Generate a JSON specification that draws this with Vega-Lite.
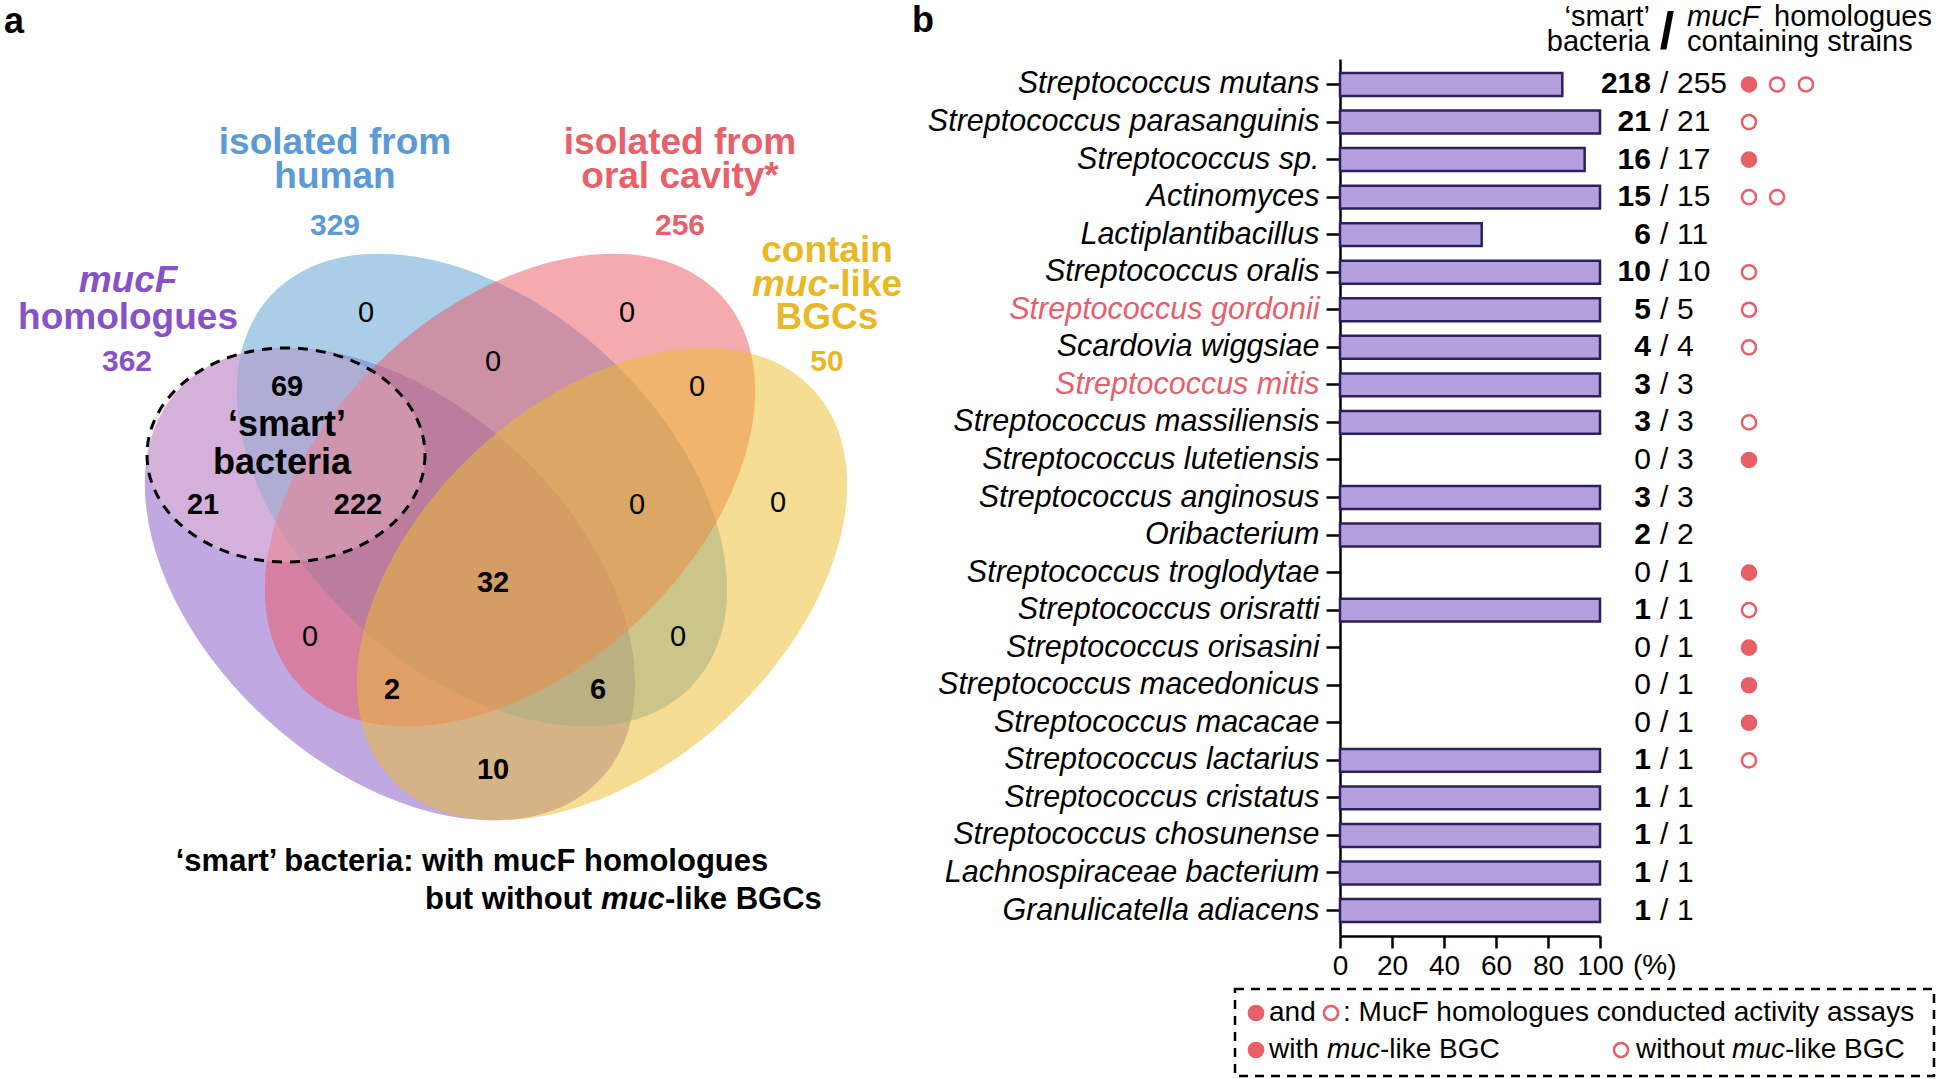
{
"$schema": "https://vega.github.io/schema/vega-lite/v6.json",
"background": "white",
"padding": 0,
"config": {"font": "Liberation Sans", "view": {"stroke": null}},
"datasets": {
"one": [{"id": 1}],
"sets": [
{"set": "A", "name": "mucF homologues", "total": 362},
{"set": "B", "name": "isolated from human", "total": 329},
{"set": "C", "name": "isolated from oral cavity*", "total": 256},
{"set": "D", "name": "contain muc-like BGCs", "total": 50}
],
"regions": [
{"sets": "B", "count": 0}, {"sets": "C", "count": 0}, {"sets": "BC", "count": 0}, {"sets": "CD", "count": 0},
{"sets": "AB", "count": 69}, {"sets": "A", "count": 21}, {"sets": "ABC", "count": 222}, {"sets": "BCD", "count": 0},
{"sets": "D", "count": 0}, {"sets": "ABCD", "count": 32}, {"sets": "AC", "count": 0}, {"sets": "BD", "count": 0},
{"sets": "ACD", "count": 2}, {"sets": "ABD", "count": 6}, {"sets": "AD", "count": 10}
],
"species": [
{"species":"Streptococcus mutans","smart":218,"total":255,"pct":85.5,"a1":"with","a2":"without","a3":"without"},
{"species":"Streptococcus parasanguinis","smart":21,"total":21,"pct":100,"a1":"without"},
{"species":"Streptococcus sp.","smart":16,"total":17,"pct":94.1,"a1":"with"},
{"species":"Actinomyces","smart":15,"total":15,"pct":100,"a1":"without","a2":"without"},
{"species":"Lactiplantibacillus","smart":6,"total":11,"pct":54.5},
{"species":"Streptococcus oralis","smart":10,"total":10,"pct":100,"a1":"without"},
{"species":"Streptococcus gordonii","smart":5,"total":5,"pct":100,"a1":"without"},
{"species":"Scardovia wiggsiae","smart":4,"total":4,"pct":100,"a1":"without"},
{"species":"Streptococcus mitis","smart":3,"total":3,"pct":100},
{"species":"Streptococcus massiliensis","smart":3,"total":3,"pct":100,"a1":"without"},
{"species":"Streptococcus lutetiensis","smart":0,"total":3,"pct":0,"a1":"with"},
{"species":"Streptococcus anginosus","smart":3,"total":3,"pct":100},
{"species":"Oribacterium","smart":2,"total":2,"pct":100},
{"species":"Streptococcus troglodytae","smart":0,"total":1,"pct":0,"a1":"with"},
{"species":"Streptococcus orisratti","smart":1,"total":1,"pct":100,"a1":"without"},
{"species":"Streptococcus orisasini","smart":0,"total":1,"pct":0,"a1":"with"},
{"species":"Streptococcus macedonicus","smart":0,"total":1,"pct":0,"a1":"with"},
{"species":"Streptococcus macacae","smart":0,"total":1,"pct":0,"a1":"with"},
{"species":"Streptococcus lactarius","smart":1,"total":1,"pct":100,"a1":"without"},
{"species":"Streptococcus cristatus","smart":1,"total":1,"pct":100},
{"species":"Streptococcus chosunense","smart":1,"total":1,"pct":100},
{"species":"Lachnospiraceae bacterium","smart":1,"total":1,"pct":100},
{"species":"Granulicatella adiacens","smart":1,"total":1,"pct":100}
]
},
"bounds": "flush",
"spacing": 0,
"hconcat": [
{
"width": 1340, "height": 1079,
"data": {"name": "one"},
"layer": [
{"data": {"name": "sets"}, "transform": [{"filter": "datum.set == 'A'"}], "mark": {"type": "point", "shape": "M1,0C1,0.3524,0.5523,0.638,0,0.638C-0.5523,0.638,-1,0.3524,-1,0C-1,-0.3524,-0.5523,-0.638,0,-0.638C0.5523,-0.638,1,-0.3524,1,0Z", "size": 329476, "angle": 42.5, "filled": true, "fill": "#8151C5", "opacity": 0.5, "strokeWidth": 0}, "encoding": {"x": {"datum": 390, "type": "quantitative", "scale": {"domain": [0, 1340], "nice": false, "zero": false}, "axis": null}, "y": {"datum": 584, "type": "quantitative", "scale": {"domain": [0, 1079], "nice": false, "zero": false, "reverse": true}, "axis": null}}},
{"data": {"name": "sets"}, "transform": [{"filter": "datum.set == 'B'"}], "mark": {"type": "point", "shape": "M1,0C1,0.3524,0.5523,0.638,0,0.638C-0.5523,0.638,-1,0.3524,-1,0C-1,-0.3524,-0.5523,-0.638,0,-0.638C0.5523,-0.638,1,-0.3524,1,0Z", "size": 329476, "angle": 42.5, "filled": true, "fill": "#559BD1", "opacity": 0.5, "strokeWidth": 0}, "encoding": {"x": {"datum": 482, "type": "quantitative", "scale": {"domain": [0, 1340], "nice": false, "zero": false}, "axis": null}, "y": {"datum": 490, "type": "quantitative", "scale": {"domain": [0, 1079], "nice": false, "zero": false, "reverse": true}, "axis": null}}},
{"data": {"name": "sets"}, "transform": [{"filter": "datum.set == 'C'"}], "mark": {"type": "point", "shape": "M1,0C1,0.3524,0.5523,0.638,0,0.638C-0.5523,0.638,-1,0.3524,-1,0C-1,-0.3524,-0.5523,-0.638,0,-0.638C0.5523,-0.638,1,-0.3524,1,0Z", "size": 329476, "angle": -42.5, "filled": true, "fill": "#EB5561", "opacity": 0.5, "strokeWidth": 0}, "encoding": {"x": {"datum": 510, "type": "quantitative", "scale": {"domain": [0, 1340], "nice": false, "zero": false}, "axis": null}, "y": {"datum": 490, "type": "quantitative", "scale": {"domain": [0, 1079], "nice": false, "zero": false, "reverse": true}, "axis": null}}},
{"data": {"name": "sets"}, "transform": [{"filter": "datum.set == 'D'"}], "mark": {"type": "point", "shape": "M1,0C1,0.3524,0.5523,0.638,0,0.638C-0.5523,0.638,-1,0.3524,-1,0C-1,-0.3524,-0.5523,-0.638,0,-0.638C0.5523,-0.638,1,-0.3524,1,0Z", "size": 329476, "angle": -42.5, "filled": true, "fill": "#EBBD29", "opacity": 0.5, "strokeWidth": 0}, "encoding": {"x": {"datum": 602, "type": "quantitative", "scale": {"domain": [0, 1340], "nice": false, "zero": false}, "axis": null}, "y": {"datum": 584, "type": "quantitative", "scale": {"domain": [0, 1079], "nice": false, "zero": false, "reverse": true}, "axis": null}}},
{"mark": {"type": "point", "shape": "M1,0C1,0.4253,0.5523,0.77,0,0.77C-0.5523,0.77,-1,0.4253,-1,0C-1,-0.4253,-0.5523,-0.77,0,-0.77C0.5523,-0.77,1,-0.4253,1,0Z", "size": 77284, "filled": true, "fill": "#F6C4CC", "fillOpacity": 0.35, "opacity": 1, "stroke": "black", "strokeWidth": 3, "strokeDash": [10, 8]}, "encoding": {"x": {"datum": 286, "type": "quantitative", "scale": {"domain": [0, 1340], "nice": false, "zero": false}, "axis": null}, "y": {"datum": 455, "type": "quantitative", "scale": {"domain": [0, 1079], "nice": false, "zero": false, "reverse": true}, "axis": null}}},

{"mark": {"type": "text", "text": "isolated from", "fontSize": 37, "fontWeight": "bold", "color": "#5B9BD5"}, "encoding": {"x": {"datum": 335, "type": "quantitative", "scale": {"domain": [0, 1340], "nice": false, "zero": false}, "axis": null}, "y": {"datum": 143, "type": "quantitative", "scale": {"domain": [0, 1079], "nice": false, "zero": false, "reverse": true}, "axis": null}}},
{"mark": {"type": "text", "text": "human", "fontSize": 37, "fontWeight": "bold", "color": "#5B9BD5"}, "encoding": {"x": {"datum": 335, "type": "quantitative", "scale": {"domain": [0, 1340], "nice": false, "zero": false}, "axis": null}, "y": {"datum": 177, "type": "quantitative", "scale": {"domain": [0, 1079], "nice": false, "zero": false, "reverse": true}, "axis": null}}},
{"data": {"name": "sets"}, "transform": [{"filter": "datum.set == 'B'"}], "mark": {"type": "text", "fontSize": 30, "fontWeight": "bold", "color": "#5B9BD5"}, "encoding": {"text": {"field": "total"}, "x": {"datum": 335, "type": "quantitative", "scale": {"domain": [0, 1340], "nice": false, "zero": false}, "axis": null}, "y": {"datum": 226, "type": "quantitative", "scale": {"domain": [0, 1079], "nice": false, "zero": false, "reverse": true}, "axis": null}}},
{"mark": {"type": "text", "text": "isolated from", "fontSize": 37, "fontWeight": "bold", "color": "#E8606A"}, "encoding": {"x": {"datum": 680, "type": "quantitative", "scale": {"domain": [0, 1340], "nice": false, "zero": false}, "axis": null}, "y": {"datum": 143, "type": "quantitative", "scale": {"domain": [0, 1079], "nice": false, "zero": false, "reverse": true}, "axis": null}}},
{"mark": {"type": "text", "text": "oral cavity*", "fontSize": 37, "fontWeight": "bold", "color": "#E8606A"}, "encoding": {"x": {"datum": 680, "type": "quantitative", "scale": {"domain": [0, 1340], "nice": false, "zero": false}, "axis": null}, "y": {"datum": 177, "type": "quantitative", "scale": {"domain": [0, 1079], "nice": false, "zero": false, "reverse": true}, "axis": null}}},
{"data": {"name": "sets"}, "transform": [{"filter": "datum.set == 'C'"}], "mark": {"type": "text", "fontSize": 30, "fontWeight": "bold", "color": "#E8606A"}, "encoding": {"text": {"field": "total"}, "x": {"datum": 680, "type": "quantitative", "scale": {"domain": [0, 1340], "nice": false, "zero": false}, "axis": null}, "y": {"datum": 226, "type": "quantitative", "scale": {"domain": [0, 1079], "nice": false, "zero": false, "reverse": true}, "axis": null}}},
{"mark": {"type": "text", "text": "contain", "fontSize": 37, "fontWeight": "bold", "color": "#E8B827"}, "encoding": {"x": {"datum": 827, "type": "quantitative", "scale": {"domain": [0, 1340], "nice": false, "zero": false}, "axis": null}, "y": {"datum": 251, "type": "quantitative", "scale": {"domain": [0, 1079], "nice": false, "zero": false, "reverse": true}, "axis": null}}},
{"mark": {"type": "text", "text": "muc", "align": "right", "fontSize": 37, "fontWeight": "bold", "fontStyle": "italic", "color": "#E8B827"}, "encoding": {"x": {"datum": 828, "type": "quantitative", "scale": {"domain": [0, 1340], "nice": false, "zero": false}, "axis": null}, "y": {"datum": 285, "type": "quantitative", "scale": {"domain": [0, 1079], "nice": false, "zero": false, "reverse": true}, "axis": null}}},
{"mark": {"type": "text", "text": "-like", "align": "left", "fontSize": 37, "fontWeight": "bold", "color": "#E8B827"}, "encoding": {"x": {"datum": 828, "type": "quantitative", "scale": {"domain": [0, 1340], "nice": false, "zero": false}, "axis": null}, "y": {"datum": 285, "type": "quantitative", "scale": {"domain": [0, 1079], "nice": false, "zero": false, "reverse": true}, "axis": null}}},
{"mark": {"type": "text", "text": "BGCs", "fontSize": 37, "fontWeight": "bold", "color": "#E8B827"}, "encoding": {"x": {"datum": 827, "type": "quantitative", "scale": {"domain": [0, 1340], "nice": false, "zero": false}, "axis": null}, "y": {"datum": 318, "type": "quantitative", "scale": {"domain": [0, 1079], "nice": false, "zero": false, "reverse": true}, "axis": null}}},
{"data": {"name": "sets"}, "transform": [{"filter": "datum.set == 'D'"}], "mark": {"type": "text", "fontSize": 30, "fontWeight": "bold", "color": "#E8B827"}, "encoding": {"text": {"field": "total"}, "x": {"datum": 827, "type": "quantitative", "scale": {"domain": [0, 1340], "nice": false, "zero": false}, "axis": null}, "y": {"datum": 362, "type": "quantitative", "scale": {"domain": [0, 1079], "nice": false, "zero": false, "reverse": true}, "axis": null}}},
{"mark": {"type": "text", "text": "mucF", "fontSize": 37, "fontWeight": "bold", "fontStyle": "italic", "color": "#8752C8"}, "encoding": {"x": {"datum": 128, "type": "quantitative", "scale": {"domain": [0, 1340], "nice": false, "zero": false}, "axis": null}, "y": {"datum": 281, "type": "quantitative", "scale": {"domain": [0, 1079], "nice": false, "zero": false, "reverse": true}, "axis": null}}},
{"mark": {"type": "text", "text": "homologues", "fontSize": 37, "fontWeight": "bold", "color": "#8752C8"}, "encoding": {"x": {"datum": 128, "type": "quantitative", "scale": {"domain": [0, 1340], "nice": false, "zero": false}, "axis": null}, "y": {"datum": 318, "type": "quantitative", "scale": {"domain": [0, 1079], "nice": false, "zero": false, "reverse": true}, "axis": null}}},
{"data": {"name": "sets"}, "transform": [{"filter": "datum.set == 'A'"}], "mark": {"type": "text", "fontSize": 30, "fontWeight": "bold", "color": "#8752C8"}, "encoding": {"text": {"field": "total"}, "x": {"datum": 127, "type": "quantitative", "scale": {"domain": [0, 1340], "nice": false, "zero": false}, "axis": null}, "y": {"datum": 362, "type": "quantitative", "scale": {"domain": [0, 1079], "nice": false, "zero": false, "reverse": true}, "axis": null}}},

{"data": {"name": "regions"}, "transform": [{"filter": "datum.sets == 'B'"}], "mark": {"type": "text", "fontSize": 29, "color": "black"}, "encoding": {"text": {"field": "count"}, "x": {"datum": 366, "type": "quantitative", "scale": {"domain": [0, 1340], "nice": false, "zero": false}, "axis": null}, "y": {"datum": 313, "type": "quantitative", "scale": {"domain": [0, 1079], "nice": false, "zero": false, "reverse": true}, "axis": null}}},
{"data": {"name": "regions"}, "transform": [{"filter": "datum.sets == 'C'"}], "mark": {"type": "text", "fontSize": 29, "color": "black"}, "encoding": {"text": {"field": "count"}, "x": {"datum": 627, "type": "quantitative", "scale": {"domain": [0, 1340], "nice": false, "zero": false}, "axis": null}, "y": {"datum": 313, "type": "quantitative", "scale": {"domain": [0, 1079], "nice": false, "zero": false, "reverse": true}, "axis": null}}},
{"data": {"name": "regions"}, "transform": [{"filter": "datum.sets == 'BC'"}], "mark": {"type": "text", "fontSize": 29, "color": "black"}, "encoding": {"text": {"field": "count"}, "x": {"datum": 493, "type": "quantitative", "scale": {"domain": [0, 1340], "nice": false, "zero": false}, "axis": null}, "y": {"datum": 362, "type": "quantitative", "scale": {"domain": [0, 1079], "nice": false, "zero": false, "reverse": true}, "axis": null}}},
{"data": {"name": "regions"}, "transform": [{"filter": "datum.sets == 'CD'"}], "mark": {"type": "text", "fontSize": 29, "color": "black"}, "encoding": {"text": {"field": "count"}, "x": {"datum": 697, "type": "quantitative", "scale": {"domain": [0, 1340], "nice": false, "zero": false}, "axis": null}, "y": {"datum": 387, "type": "quantitative", "scale": {"domain": [0, 1079], "nice": false, "zero": false, "reverse": true}, "axis": null}}},
{"data": {"name": "regions"}, "transform": [{"filter": "datum.sets == 'AB'"}], "mark": {"type": "text", "fontSize": 29, "fontWeight": "bold", "color": "black"}, "encoding": {"text": {"field": "count"}, "x": {"datum": 287, "type": "quantitative", "scale": {"domain": [0, 1340], "nice": false, "zero": false}, "axis": null}, "y": {"datum": 387, "type": "quantitative", "scale": {"domain": [0, 1079], "nice": false, "zero": false, "reverse": true}, "axis": null}}},
{"mark": {"type": "text", "text": "‘smart’", "fontSize": 36, "fontWeight": "bold", "color": "black"}, "encoding": {"x": {"datum": 287, "type": "quantitative", "scale": {"domain": [0, 1340], "nice": false, "zero": false}, "axis": null}, "y": {"datum": 425, "type": "quantitative", "scale": {"domain": [0, 1079], "nice": false, "zero": false, "reverse": true}, "axis": null}}},
{"mark": {"type": "text", "text": "bacteria", "fontSize": 36, "fontWeight": "bold", "color": "black"}, "encoding": {"x": {"datum": 282, "type": "quantitative", "scale": {"domain": [0, 1340], "nice": false, "zero": false}, "axis": null}, "y": {"datum": 463, "type": "quantitative", "scale": {"domain": [0, 1079], "nice": false, "zero": false, "reverse": true}, "axis": null}}},
{"data": {"name": "regions"}, "transform": [{"filter": "datum.sets == 'A'"}], "mark": {"type": "text", "fontSize": 29, "fontWeight": "bold", "color": "black"}, "encoding": {"text": {"field": "count"}, "x": {"datum": 203, "type": "quantitative", "scale": {"domain": [0, 1340], "nice": false, "zero": false}, "axis": null}, "y": {"datum": 505, "type": "quantitative", "scale": {"domain": [0, 1079], "nice": false, "zero": false, "reverse": true}, "axis": null}}},
{"data": {"name": "regions"}, "transform": [{"filter": "datum.sets == 'ABC'"}], "mark": {"type": "text", "fontSize": 29, "fontWeight": "bold", "color": "black"}, "encoding": {"text": {"field": "count"}, "x": {"datum": 358, "type": "quantitative", "scale": {"domain": [0, 1340], "nice": false, "zero": false}, "axis": null}, "y": {"datum": 505, "type": "quantitative", "scale": {"domain": [0, 1079], "nice": false, "zero": false, "reverse": true}, "axis": null}}},
{"data": {"name": "regions"}, "transform": [{"filter": "datum.sets == 'BCD'"}], "mark": {"type": "text", "fontSize": 29, "color": "black"}, "encoding": {"text": {"field": "count"}, "x": {"datum": 637, "type": "quantitative", "scale": {"domain": [0, 1340], "nice": false, "zero": false}, "axis": null}, "y": {"datum": 505, "type": "quantitative", "scale": {"domain": [0, 1079], "nice": false, "zero": false, "reverse": true}, "axis": null}}},
{"data": {"name": "regions"}, "transform": [{"filter": "datum.sets == 'D'"}], "mark": {"type": "text", "fontSize": 29, "color": "black"}, "encoding": {"text": {"field": "count"}, "x": {"datum": 778, "type": "quantitative", "scale": {"domain": [0, 1340], "nice": false, "zero": false}, "axis": null}, "y": {"datum": 503, "type": "quantitative", "scale": {"domain": [0, 1079], "nice": false, "zero": false, "reverse": true}, "axis": null}}},
{"data": {"name": "regions"}, "transform": [{"filter": "datum.sets == 'ABCD'"}], "mark": {"type": "text", "fontSize": 29, "fontWeight": "bold", "color": "black"}, "encoding": {"text": {"field": "count"}, "x": {"datum": 493, "type": "quantitative", "scale": {"domain": [0, 1340], "nice": false, "zero": false}, "axis": null}, "y": {"datum": 583, "type": "quantitative", "scale": {"domain": [0, 1079], "nice": false, "zero": false, "reverse": true}, "axis": null}}},
{"data": {"name": "regions"}, "transform": [{"filter": "datum.sets == 'AC'"}], "mark": {"type": "text", "fontSize": 29, "color": "black"}, "encoding": {"text": {"field": "count"}, "x": {"datum": 310, "type": "quantitative", "scale": {"domain": [0, 1340], "nice": false, "zero": false}, "axis": null}, "y": {"datum": 637, "type": "quantitative", "scale": {"domain": [0, 1079], "nice": false, "zero": false, "reverse": true}, "axis": null}}},
{"data": {"name": "regions"}, "transform": [{"filter": "datum.sets == 'BD'"}], "mark": {"type": "text", "fontSize": 29, "color": "black"}, "encoding": {"text": {"field": "count"}, "x": {"datum": 678, "type": "quantitative", "scale": {"domain": [0, 1340], "nice": false, "zero": false}, "axis": null}, "y": {"datum": 637, "type": "quantitative", "scale": {"domain": [0, 1079], "nice": false, "zero": false, "reverse": true}, "axis": null}}},
{"data": {"name": "regions"}, "transform": [{"filter": "datum.sets == 'ACD'"}], "mark": {"type": "text", "fontSize": 29, "fontWeight": "bold", "color": "black"}, "encoding": {"text": {"field": "count"}, "x": {"datum": 392, "type": "quantitative", "scale": {"domain": [0, 1340], "nice": false, "zero": false}, "axis": null}, "y": {"datum": 690, "type": "quantitative", "scale": {"domain": [0, 1079], "nice": false, "zero": false, "reverse": true}, "axis": null}}},
{"data": {"name": "regions"}, "transform": [{"filter": "datum.sets == 'ABD'"}], "mark": {"type": "text", "fontSize": 29, "fontWeight": "bold", "color": "black"}, "encoding": {"text": {"field": "count"}, "x": {"datum": 598, "type": "quantitative", "scale": {"domain": [0, 1340], "nice": false, "zero": false}, "axis": null}, "y": {"datum": 690, "type": "quantitative", "scale": {"domain": [0, 1079], "nice": false, "zero": false, "reverse": true}, "axis": null}}},
{"data": {"name": "regions"}, "transform": [{"filter": "datum.sets == 'AD'"}], "mark": {"type": "text", "fontSize": 29, "fontWeight": "bold", "color": "black"}, "encoding": {"text": {"field": "count"}, "x": {"datum": 493, "type": "quantitative", "scale": {"domain": [0, 1340], "nice": false, "zero": false}, "axis": null}, "y": {"datum": 770, "type": "quantitative", "scale": {"domain": [0, 1079], "nice": false, "zero": false, "reverse": true}, "axis": null}}},

{"mark": {"type": "text", "text": "‘smart’ bacteria: with mucF homologues", "fontSize": 31, "fontWeight": "bold", "color": "black"}, "encoding": {"x": {"datum": 472, "type": "quantitative", "scale": {"domain": [0, 1340], "nice": false, "zero": false}, "axis": null}, "y": {"datum": 862, "type": "quantitative", "scale": {"domain": [0, 1079], "nice": false, "zero": false, "reverse": true}, "axis": null}}},
{"mark": {"type": "text", "text": "but without", "align": "right", "fontSize": 31, "fontWeight": "bold", "color": "black"}, "encoding": {"x": {"datum": 592, "type": "quantitative", "scale": {"domain": [0, 1340], "nice": false, "zero": false}, "axis": null}, "y": {"datum": 900, "type": "quantitative", "scale": {"domain": [0, 1079], "nice": false, "zero": false, "reverse": true}, "axis": null}}},
{"mark": {"type": "text", "text": "muc", "align": "left", "fontSize": 31, "fontWeight": "bold", "fontStyle": "italic", "color": "black"}, "encoding": {"x": {"datum": 601, "type": "quantitative", "scale": {"domain": [0, 1340], "nice": false, "zero": false}, "axis": null}, "y": {"datum": 900, "type": "quantitative", "scale": {"domain": [0, 1079], "nice": false, "zero": false, "reverse": true}, "axis": null}}},
{"mark": {"type": "text", "text": "-like BGCs", "align": "left", "fontSize": 31, "fontWeight": "bold", "color": "black"}, "encoding": {"x": {"datum": 665, "type": "quantitative", "scale": {"domain": [0, 1340], "nice": false, "zero": false}, "axis": null}, "y": {"datum": 900, "type": "quantitative", "scale": {"domain": [0, 1079], "nice": false, "zero": false, "reverse": true}, "axis": null}}},
{"mark": {"type": "text", "text": "a", "align": "left", "baseline": "middle", "fontSize": 36, "fontWeight": "bold", "color": "black"}, "encoding": {"x": {"datum": 4, "type": "quantitative", "scale": {"domain": [0, 1340], "nice": false, "zero": false}, "axis": null}, "y": {"datum": 22, "type": "quantitative", "scale": {"domain": [0, 1079], "nice": false, "zero": false, "reverse": true}, "axis": null}}}
]
},
{
"bounds": "flush",
"spacing": 0,
"vconcat": [
{
"width": 606, "height": 59,
"data": {"name": "one"},
"layer": [
{"mark": {"type": "text", "text": "b", "align": "left", "baseline": "middle", "fontSize": 36, "fontWeight": "bold", "color": "black"}, "encoding": {"x": {"datum": 912, "type": "quantitative", "scale": {"domain": [1340, 1946], "nice": false, "zero": false}, "axis": null}, "y": {"datum": 21, "type": "quantitative", "scale": {"domain": [0, 59], "nice": false, "zero": false, "reverse": true}, "axis": null}}},
{"mark": {"type": "text", "text": "‘smart’", "align": "right", "baseline": "alphabetic", "fontSize": 29, "color": "black"}, "encoding": {"x": {"datum": 1650, "type": "quantitative", "scale": {"domain": [1340, 1946], "nice": false, "zero": false}, "axis": null}, "y": {"datum": 26, "type": "quantitative", "scale": {"domain": [0, 59], "nice": false, "zero": false, "reverse": true}, "axis": null}}},
{"mark": {"type": "text", "text": "bacteria", "align": "right", "baseline": "alphabetic", "fontSize": 29, "color": "black"}, "encoding": {"x": {"datum": 1650, "type": "quantitative", "scale": {"domain": [1340, 1946], "nice": false, "zero": false}, "axis": null}, "y": {"datum": 51, "type": "quantitative", "scale": {"domain": [0, 59], "nice": false, "zero": false, "reverse": true}, "axis": null}}},
{"mark": {"type": "text", "text": "/", "align": "center", "baseline": "alphabetic", "fontSize": 52, "fontWeight": "bold", "color": "black"}, "encoding": {"x": {"datum": 1667, "type": "quantitative", "scale": {"domain": [1340, 1946], "nice": false, "zero": false}, "axis": null}, "y": {"datum": 49, "type": "quantitative", "scale": {"domain": [0, 59], "nice": false, "zero": false, "reverse": true}, "axis": null}}},
{"mark": {"type": "text", "text": "mucF", "align": "left", "baseline": "alphabetic", "fontSize": 29, "fontStyle": "italic", "color": "black"}, "encoding": {"x": {"datum": 1687, "type": "quantitative", "scale": {"domain": [1340, 1946], "nice": false, "zero": false}, "axis": null}, "y": {"datum": 26, "type": "quantitative", "scale": {"domain": [0, 59], "nice": false, "zero": false, "reverse": true}, "axis": null}}},
{"mark": {"type": "text", "text": "homologues", "align": "left", "baseline": "alphabetic", "fontSize": 29, "color": "black"}, "encoding": {"x": {"datum": 1774, "type": "quantitative", "scale": {"domain": [1340, 1946], "nice": false, "zero": false}, "axis": null}, "y": {"datum": 26, "type": "quantitative", "scale": {"domain": [0, 59], "nice": false, "zero": false, "reverse": true}, "axis": null}}},
{"mark": {"type": "text", "text": "containing strains", "align": "left", "baseline": "alphabetic", "fontSize": 29, "color": "black"}, "encoding": {"x": {"datum": 1687, "type": "quantitative", "scale": {"domain": [1340, 1946], "nice": false, "zero": false}, "axis": null}, "y": {"datum": 51, "type": "quantitative", "scale": {"domain": [0, 59], "nice": false, "zero": false, "reverse": true}, "axis": null}}}
]
},
{
"width": 260, "height": 877,
"data": {"name": "species"},
"encoding": {"y": {"field": "species", "type": "nominal", "sort": null, "scale": {"paddingInner": 0.39, "paddingOuter": 0.373}, "axis": {"title": null, "labelFontSize": 30.5, "labelFontStyle": "italic", "labelColor": {"condition": {"test": "datum.value === 'Streptococcus gordonii' || datum.value === 'Streptococcus mitis'", "value": "#E5606B"}, "value": "black"}, "labelPadding": 7, "labelLimit": 700, "tickSize": 14, "tickWidth": 2.5, "tickColor": "black", "domainColor": "black", "domainWidth": 2.5}}},
"layer": [
{"mark": {"type": "bar", "fill": "#B4A0DC", "stroke": "#2E1F5E", "strokeWidth": 2.5}, "encoding": {"x": {"field": "pct", "type": "quantitative", "scale": {"domain": [0, 100], "nice": false, "zero": true}, "axis": {"values": [0, 20, 40, 60, 80, 100], "title": null, "labelFontSize": 28, "labelColor": "black", "labelPadding": 4, "labelFlush": false, "labelOverlap": false, "tickSize": 12, "tickWidth": 2.5, "tickColor": "black", "domainColor": "black", "domainWidth": 2.5, "grid": false}}, "strokeOpacity": {"condition": {"test": "datum.pct == 0", "value": 0}, "value": 1}}},
{"transform": [{"filter": "datum.smart > 0"}], "mark": {"type": "text", "align": "right", "fontSize": 30, "fontWeight": "bold", "color": "black"}, "encoding": {"x": {"datum": 119.6, "type": "quantitative", "scale": {"domain": [0, 100], "nice": false, "zero": true}}, "text": {"field": "smart"}}},
{"transform": [{"filter": "datum.smart == 0"}], "mark": {"type": "text", "align": "right", "fontSize": 30, "color": "black"}, "encoding": {"x": {"datum": 119.6, "type": "quantitative", "scale": {"domain": [0, 100], "nice": false, "zero": true}}, "text": {"field": "smart"}}},
{"mark": {"type": "text", "text": "/", "align": "left", "fontSize": 30, "color": "black"}, "encoding": {"x": {"datum": 123.1, "type": "quantitative", "scale": {"domain": [0, 100], "nice": false, "zero": true}}}},
{"mark": {"type": "text", "align": "left", "fontSize": 30, "color": "black"}, "encoding": {"x": {"datum": 129.6, "type": "quantitative", "scale": {"domain": [0, 100], "nice": false, "zero": true}}, "text": {"field": "total"}}},
{"transform": [{"filter": "datum.a1 != null"}], "mark": {"type": "point", "shape": "circle", "size": 200, "filled": true, "opacity": 1, "stroke": "#E95F67", "strokeWidth": 2.5}, "encoding": {"x": {"datum": 157.3, "type": "quantitative", "scale": {"domain": [0, 100], "nice": false, "zero": true}}, "fill": {"field": "a1", "type": "nominal", "scale": {"domain": ["with", "without"], "range": ["#E95F67", "white"]}, "legend": null}}},
{"transform": [{"filter": "datum.a2 != null"}], "mark": {"type": "point", "shape": "circle", "size": 200, "filled": true, "opacity": 1, "stroke": "#E95F67", "strokeWidth": 2.5}, "encoding": {"x": {"datum": 168.1, "type": "quantitative", "scale": {"domain": [0, 100], "nice": false, "zero": true}}, "fill": {"field": "a2", "type": "nominal", "scale": {"domain": ["with", "without"], "range": ["#E95F67", "white"]}, "legend": null}}},
{"transform": [{"filter": "datum.a3 != null"}], "mark": {"type": "point", "shape": "circle", "size": 200, "filled": true, "opacity": 1, "stroke": "#E95F67", "strokeWidth": 2.5}, "encoding": {"x": {"datum": 179.2, "type": "quantitative", "scale": {"domain": [0, 100], "nice": false, "zero": true}}, "fill": {"field": "a3", "type": "nominal", "scale": {"domain": ["with", "without"], "range": ["#E95F67", "white"]}, "legend": null}}}
]
},
{
"width": 606, "height": 143,
"data": {"name": "one"},
"layer": [
{"mark": {"type": "rect", "fill": "transparent", "stroke": "black", "strokeWidth": 2.5, "strokeDash": [9, 7]}, "encoding": {"x": {"datum": 1235, "type": "quantitative", "scale": {"domain": [1340, 1946], "nice": false, "zero": false}, "axis": null}, "x2": {"datum": 1934}, "y": {"datum": 989, "type": "quantitative", "scale": {"domain": [936, 1079], "nice": false, "zero": false, "reverse": true}, "axis": null}, "y2": {"datum": 1076}}},
{"mark": {"type": "text", "text": "(%)", "align": "left", "fontSize": 28, "color": "black"}, "encoding": {"x": {"datum": 1633, "type": "quantitative", "scale": {"domain": [1340, 1946], "nice": false, "zero": false}, "axis": null}, "y": {"datum": 966, "type": "quantitative", "scale": {"domain": [936, 1079], "nice": false, "zero": false, "reverse": true}, "axis": null}}},
{"mark": {"type": "point", "shape": "circle", "size": 200, "filled": true, "opacity": 1, "fill": "#E95F67", "stroke": "#E95F67", "strokeWidth": 2.5}, "encoding": {"x": {"datum": 1256, "type": "quantitative", "scale": {"domain": [1340, 1946], "nice": false, "zero": false}, "axis": null}, "y": {"datum": 1013, "type": "quantitative", "scale": {"domain": [936, 1079], "nice": false, "zero": false, "reverse": true}, "axis": null}}},
{"mark": {"type": "point", "shape": "circle", "size": 200, "filled": true, "opacity": 1, "fill": "white", "stroke": "#E95F67", "strokeWidth": 2.5}, "encoding": {"x": {"datum": 1331, "type": "quantitative", "scale": {"domain": [1340, 1946], "nice": false, "zero": false}, "axis": null}, "y": {"datum": 1013, "type": "quantitative", "scale": {"domain": [936, 1079], "nice": false, "zero": false, "reverse": true}, "axis": null}}},
{"mark": {"type": "point", "shape": "circle", "size": 200, "filled": true, "opacity": 1, "fill": "#E95F67", "stroke": "#E95F67", "strokeWidth": 2.5}, "encoding": {"x": {"datum": 1256, "type": "quantitative", "scale": {"domain": [1340, 1946], "nice": false, "zero": false}, "axis": null}, "y": {"datum": 1050, "type": "quantitative", "scale": {"domain": [936, 1079], "nice": false, "zero": false, "reverse": true}, "axis": null}}},
{"mark": {"type": "point", "shape": "circle", "size": 200, "filled": true, "opacity": 1, "fill": "white", "stroke": "#E95F67", "strokeWidth": 2.5}, "encoding": {"x": {"datum": 1621, "type": "quantitative", "scale": {"domain": [1340, 1946], "nice": false, "zero": false}, "axis": null}, "y": {"datum": 1050, "type": "quantitative", "scale": {"domain": [936, 1079], "nice": false, "zero": false, "reverse": true}, "axis": null}}},
{"mark": {"type": "text", "text": "and", "align": "left", "fontSize": 28, "color": "black"}, "encoding": {"x": {"datum": 1269, "type": "quantitative", "scale": {"domain": [1340, 1946], "nice": false, "zero": false}, "axis": null}, "y": {"datum": 1013, "type": "quantitative", "scale": {"domain": [936, 1079], "nice": false, "zero": false, "reverse": true}, "axis": null}}},
{"mark": {"type": "text", "text": ": MucF homologues conducted activity assays", "align": "left", "fontSize": 28, "color": "black"}, "encoding": {"x": {"datum": 1343, "type": "quantitative", "scale": {"domain": [1340, 1946], "nice": false, "zero": false}, "axis": null}, "y": {"datum": 1013, "type": "quantitative", "scale": {"domain": [936, 1079], "nice": false, "zero": false, "reverse": true}, "axis": null}}},
{"mark": {"type": "text", "text": "with", "align": "left", "fontSize": 28, "color": "black"}, "encoding": {"x": {"datum": 1269, "type": "quantitative", "scale": {"domain": [1340, 1946], "nice": false, "zero": false}, "axis": null}, "y": {"datum": 1050, "type": "quantitative", "scale": {"domain": [936, 1079], "nice": false, "zero": false, "reverse": true}, "axis": null}}},
{"mark": {"type": "text", "text": "muc", "align": "left", "fontSize": 28, "fontStyle": "italic", "color": "black"}, "encoding": {"x": {"datum": 1327, "type": "quantitative", "scale": {"domain": [1340, 1946], "nice": false, "zero": false}, "axis": null}, "y": {"datum": 1050, "type": "quantitative", "scale": {"domain": [936, 1079], "nice": false, "zero": false, "reverse": true}, "axis": null}}},
{"mark": {"type": "text", "text": "-like BGC", "align": "left", "fontSize": 28, "color": "black"}, "encoding": {"x": {"datum": 1380, "type": "quantitative", "scale": {"domain": [1340, 1946], "nice": false, "zero": false}, "axis": null}, "y": {"datum": 1050, "type": "quantitative", "scale": {"domain": [936, 1079], "nice": false, "zero": false, "reverse": true}, "axis": null}}},
{"mark": {"type": "text", "text": "without", "align": "left", "fontSize": 28, "color": "black"}, "encoding": {"x": {"datum": 1636, "type": "quantitative", "scale": {"domain": [1340, 1946], "nice": false, "zero": false}, "axis": null}, "y": {"datum": 1050, "type": "quantitative", "scale": {"domain": [936, 1079], "nice": false, "zero": false, "reverse": true}, "axis": null}}},
{"mark": {"type": "text", "text": "muc", "align": "left", "fontSize": 28, "fontStyle": "italic", "color": "black"}, "encoding": {"x": {"datum": 1732, "type": "quantitative", "scale": {"domain": [1340, 1946], "nice": false, "zero": false}, "axis": null}, "y": {"datum": 1050, "type": "quantitative", "scale": {"domain": [936, 1079], "nice": false, "zero": false, "reverse": true}, "axis": null}}},
{"mark": {"type": "text", "text": "-like BGC", "align": "left", "fontSize": 28, "color": "black"}, "encoding": {"x": {"datum": 1785, "type": "quantitative", "scale": {"domain": [1340, 1946], "nice": false, "zero": false}, "axis": null}, "y": {"datum": 1050, "type": "quantitative", "scale": {"domain": [936, 1079], "nice": false, "zero": false, "reverse": true}, "axis": null}}}
]
}
]
}
]
}
